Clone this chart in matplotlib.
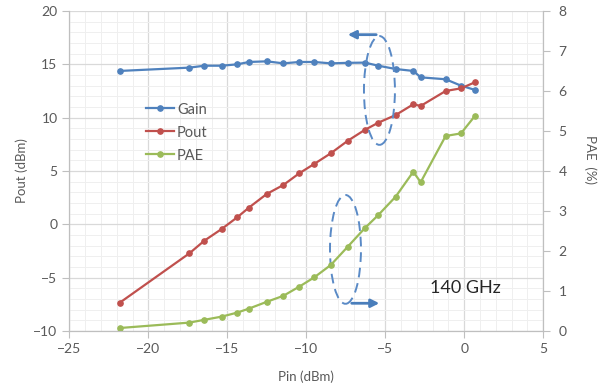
import matplotlib

matplotlib.use("Agg")
import matplotlib.pyplot as plt
from matplotlib.patches import Ellipse
from matplotlib.ticker import MultipleLocator

plt.rcParams["font.family"] = ["Lato", "DejaVu Sans"]

# Pin sweep (dBm)
pin = [-21.8, -17.4, -16.45, -15.35, -14.37, -13.63, -12.5, -11.45, -10.44, -9.5,
       -8.45, -7.37, -6.3, -5.44, -4.34, -3.23, -2.76, -1.18, -0.21, 0.68]
gain = [14.38, 14.69, 14.87, 14.87, 15.0, 15.22, 15.28, 15.09, 15.22, 15.22,
        15.09, 15.14, 15.16, 14.87, 14.56, 14.38, 13.78, 13.6, 13.0, 12.6]
pout = [-7.34, -2.72, -1.53, -0.43, 0.66, 1.57, 2.85, 3.69, 4.79, 5.66,
        6.66, 7.84, 8.85, 9.53, 10.25, 11.25, 11.1, 12.5, 12.75, 13.32]
pae = [0.075, 0.21, 0.28, 0.36, 0.46, 0.56, 0.73, 0.88, 1.11, 1.34,
       1.65, 2.11, 2.57, 2.9, 3.36, 3.98, 3.72, 4.875, 4.94, 5.38]

C_GAIN = "#4F81BD"
C_POUT = "#C0504D"
C_PAE = "#9BBB59"
C_TXT = "#595959"
C_MARK = "#4A7EBB"

fig = plt.figure(figsize=(5.98, 3.87), dpi=100)
ax = fig.add_axes([0.1159, 0.1447, 0.7926, 0.8269])
ax2 = ax.twinx()

ax.set_xlim(-25, 5)
ax.set_ylim(-10, 20)
ax2.set_ylim(0, 8)
ax.xaxis.set_major_locator(MultipleLocator(5))
ax.xaxis.set_minor_locator(MultipleLocator(1))
ax.yaxis.set_major_locator(MultipleLocator(5))
ax.yaxis.set_minor_locator(MultipleLocator(1))
ax2.yaxis.set_major_locator(MultipleLocator(1))

ax.grid(which="major", color="#d9d9d9", lw=0.9)
ax.grid(which="minor", color="#efefef", lw=0.7)
ax.set_axisbelow(True)

for a in (ax, ax2):
    a.spines["top"].set_visible(False)
    for side in ("left", "right", "bottom"):
        a.spines[side].set_color("#bfbfbf")
ax.tick_params(which="minor", length=0)
ax2.tick_params(which="minor", length=0)
ax.tick_params(which="major", length=5, color="#bfbfbf", labelcolor=C_TXT, labelsize=10)
ax2.tick_params(which="major", length=5, pad=6, color="#bfbfbf", labelcolor=C_TXT,
                labelsize=10)

l1, = ax.plot(pin, gain, "-o", color=C_GAIN, lw=1.6, ms=3.8, label="Gain")
l2, = ax.plot(pin, pout, "-o", color=C_POUT, lw=1.6, ms=3.8, label="Pout")
l3, = ax2.plot(pin, pae, "-o", color=C_PAE, lw=1.6, ms=3.8, label="PAE")

ax.set_xlabel("Pin (dBm)", color=C_TXT, fontsize=9.5)
ax.xaxis.set_label_coords(0.5, -0.122)
ax.set_ylabel("Pout (dBm)", color=C_TXT, fontsize=9.5, labelpad=4)
fig.text(590 / 598, 1 - 160 / 387, "PAE  (%)", color=C_TXT, fontsize=9.5,
         rotation=270, ha="center", va="center")

ax2.legend(handles=[l1, l2, l3], loc="upper left", bbox_to_anchor=(0.135, 0.755),
           frameon=False, handlelength=1.9, handletextpad=0.2, labelspacing=0.62,
           prop={"size": 10.5}, labelcolor=C_TXT)

# dashed ellipses with arrows pointing to the axis of each curve
for cx, cy in [(-5.37, 12.55), (-7.52, -2.35)]:
    ax.add_patch(Ellipse((cx, cy), 1.96, 10.2, fill=False, ls=(0, (5, 3)),
                         lw=1.4, ec="#5a8ac6", zorder=4))
ax.annotate("", xy=(-7.55, 17.78), xytext=(-5.4, 17.78),
            arrowprops=dict(arrowstyle="-|>", color=C_MARK, lw=2, mutation_scale=12))
ax.annotate("", xy=(-5.2, -7.4), xytext=(-7.3, -7.4),
            arrowprops=dict(arrowstyle="-|>", color=C_MARK, lw=2, mutation_scale=12))

ax.text(0.1, -6.0, "140 GHz", fontsize=13, color="#262626", ha="center", va="center")

fig.savefig("out.png", dpi=100)
